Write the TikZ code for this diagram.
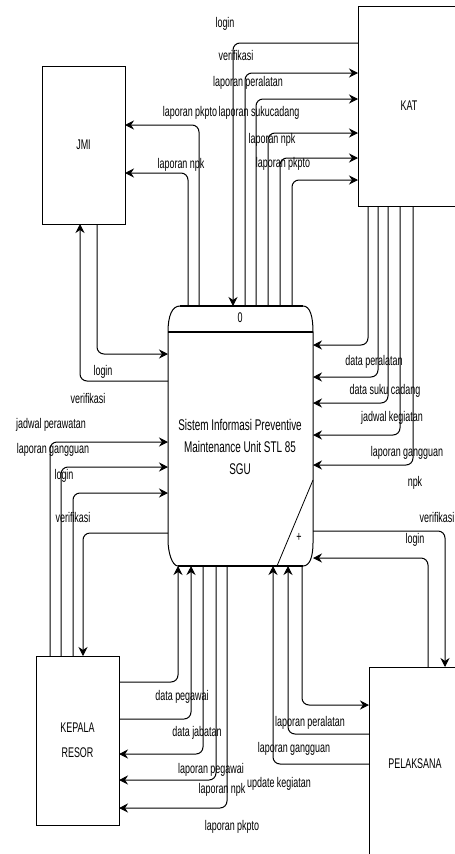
\documentclass[tikz,border=0pt]{standalone}
\usepackage{fontspec}
\setmainfont{Liberation Sans}[FakeStretch=0.64]
\usetikzlibrary{arrows.meta}

\begin{document}
\begin{tikzpicture}[x=1pt, y=-1pt, font=\fontsize{14}{16}\selectfont,
        entity/.style={draw, line width=1pt, inner sep=0pt, outer sep=0pt},
        flow/.style={line width=1pt, rounded corners=7pt, -{Stealth[length=9pt,width=9pt]}},
        lbl/.style={inner sep=0pt}]
                \clip (0,0) rectangle (455,854);
                \node[entity, minimum width=83pt, minimum height=158pt] (jmi) at (83.5,145) {JMI};
                \node[entity, minimum width=102pt, minimum height=200pt] (kat) at (409,106) {KAT};
                \node[entity, minimum width=83pt, minimum height=169pt, align=center,
                    font=\fontsize{14}{25}\selectfont] (kep) at (77.5,740.5) {KEPALA\\RESOR};
                \node[entity, minimum width=92pt, minimum height=193pt] (pel) at (415,763.5) {PELAKSANA};
                \node[minimum width=145pt, minimum height=260pt, inner sep=0pt, outer sep=0pt] (proc) at (240.5,436) {};
                \draw[line width=1pt] (168,332) .. controls (168,316) and (172,306) .. (180,306) -- (303,306)
                    .. controls (310,306) and (313,316) .. (313,332) -- (313,543)
                    .. controls (313,556) and (310,566) .. (303,566) -- (178,566)
                    .. controls (172,566) and (168,552) .. (168,540) -- cycle;
                \draw[line width=1.6pt] (180,306) -- (303,306);
                \draw[line width=1.6pt] (178,566) -- (303,566);
                \draw[line width=1.2pt] (168,332) -- (313,332);
                \draw[line width=0.8pt] (313,480) -- (277,566);
                \node[lbl] (pnum) at (240,318) {0};
                \node[lbl] (plus) at (299,537) {+};
                \node[align=center, font=\fontsize{15.5}{22}\selectfont] (ptxt) at (240,447)
                    {Sistem Informasi Preventive\\Maintenance Unit STL 85\\SGU};

                \draw[flow] (kat.west |- 0,43) -| (proc.north -| 233,0);
                \draw[flow] (proc.north -| 245,0) |- (kat.west |- 0,73);
                \draw[flow] (proc.north -| 256,0) |- (kat.west |- 0,99);
                \draw[flow] (proc.north -| 268,0) |- (kat.west |- 0,133);
                \draw[flow] (proc.north -| 280,0) |- (kat.west |- 0,158);
                \draw[flow] (proc.north -| 292,0) |- (kat.west |- 0,180);
                \draw[flow] (kat.south -| 368,0) |- (proc.east |- 0,345);
                \draw[flow] (kat.south -| 378,0) |- (proc.east |- 0,377);
                \draw[flow] (kat.south -| 388,0) |- (proc.east |- 0,403);
                \draw[flow] (kat.south -| 400,0) |- (proc.east |- 0,435);
                \draw[flow] (kat.south -| 413,0) |- (proc.east |- 0,465);

                \draw[flow] (proc.north -| 188,0) |- (jmi.east |- 0,173);
                \draw[flow] (proc.north -| 199,0) |- (jmi.east |- 0,125);
                \draw[flow] (jmi.south -| 97,0) |- (proc.west |- 0,354);
                \draw[flow] (proc.west |- 0,381) -| (jmi.south -| 80,0);

                \draw[flow] (kep.north -| 50,0) |- (proc.west |- 0,442);
                \draw[flow] (kep.north -| 61,0) |- (proc.west |- 0,467);
                \draw[flow] (kep.north -| 73,0) |- (proc.west |- 0,493);
                \draw[flow] (proc.west |- 0,533) -| (kep.north -| 83,0);
                \draw[flow] (kep.east |- 0,682) -| (proc.south -| 178,0);
                \draw[flow] (kep.east |- 0,719) -| (proc.south -| 191,0);
                \draw[flow] (proc.south -| 203,0) |- (kep.east |- 0,754);
                \draw[flow] (proc.south -| 216,0) |- (kep.east |- 0,780);
                \draw[flow] (proc.south -| 227,0) |- (kep.east |- 0,808);

                \draw[flow] (proc.east |- 0,531) -| (pel.north -| 445,0);
                \draw[flow] (pel.north -| 428,0) |- (proc.east |- 0,558);
                \draw[flow] (proc.south -| 302,0) |- (pel.west |- 0,705);
                \draw[flow] (pel.west |- 0,734) -| (proc.south -| 288,0);
                \draw[flow] (pel.west |- 0,764) -| (proc.south -| 273,0);

                \node[lbl] (l1) at (225,24) {login};
                \node[lbl] (l2) at (236,55) {verifikasi};
                \node[lbl] (l3) at (248,83) {laporan peralatan};
                \node[lbl] (l4) at (259,113) {laporan sukucadang};
                \node[lbl] (l5) at (272,140) {laporan npk};
                \node[lbl] (l6) at (283,164) {laporan pkpto};
                \node[lbl] (l7) at (190,113) {laporan pkpto};
                \node[lbl] (l8) at (181,165) {laporan npk};
                \node[lbl] (l9) at (103,372) {login};
                \node[lbl] (l10) at (88,398) {verifikasi};
                \node[lbl] (l11) at (51,425) {jadwal perawatan};
                \node[lbl] (l12) at (53,450) {laporan gangguan};
                \node[lbl] (l13) at (64,476) {login};
                \node[lbl] (l14) at (73,517) {verifikasi};
                \node[lbl] (l15) at (374,362) {data peralatan};
                \node[lbl] (l16) at (385,391) {data suku cadang};
                \node[lbl] (l17) at (392,418) {jadwal kegiatan};
                \node[lbl] (l18) at (407,453) {laporan gangguan};
                \node[lbl] (l19) at (415,483) {npk};
                \node[lbl] (l20) at (437,517) {verifikasi};
                \node[lbl] (l21) at (415,540) {login};
                \node[lbl] (l22) at (182,697) {data pegawai};
                \node[lbl] (l23) at (197,733) {data jabatan};
                \node[lbl] (l24) at (211,770) {laporan pegawai};
                \node[lbl] (l25) at (222,790) {laporan npk};
                \node[lbl] (l26) at (232,827) {laporan pkpto};
                \node[lbl] (l27) at (310,723) {laporan peralatan};
                \node[lbl] (l28) at (294,749) {laporan gangguan};
                \node[lbl] (l29) at (279,784) {update kegiatan};
            \end{tikzpicture}
\end{document}
